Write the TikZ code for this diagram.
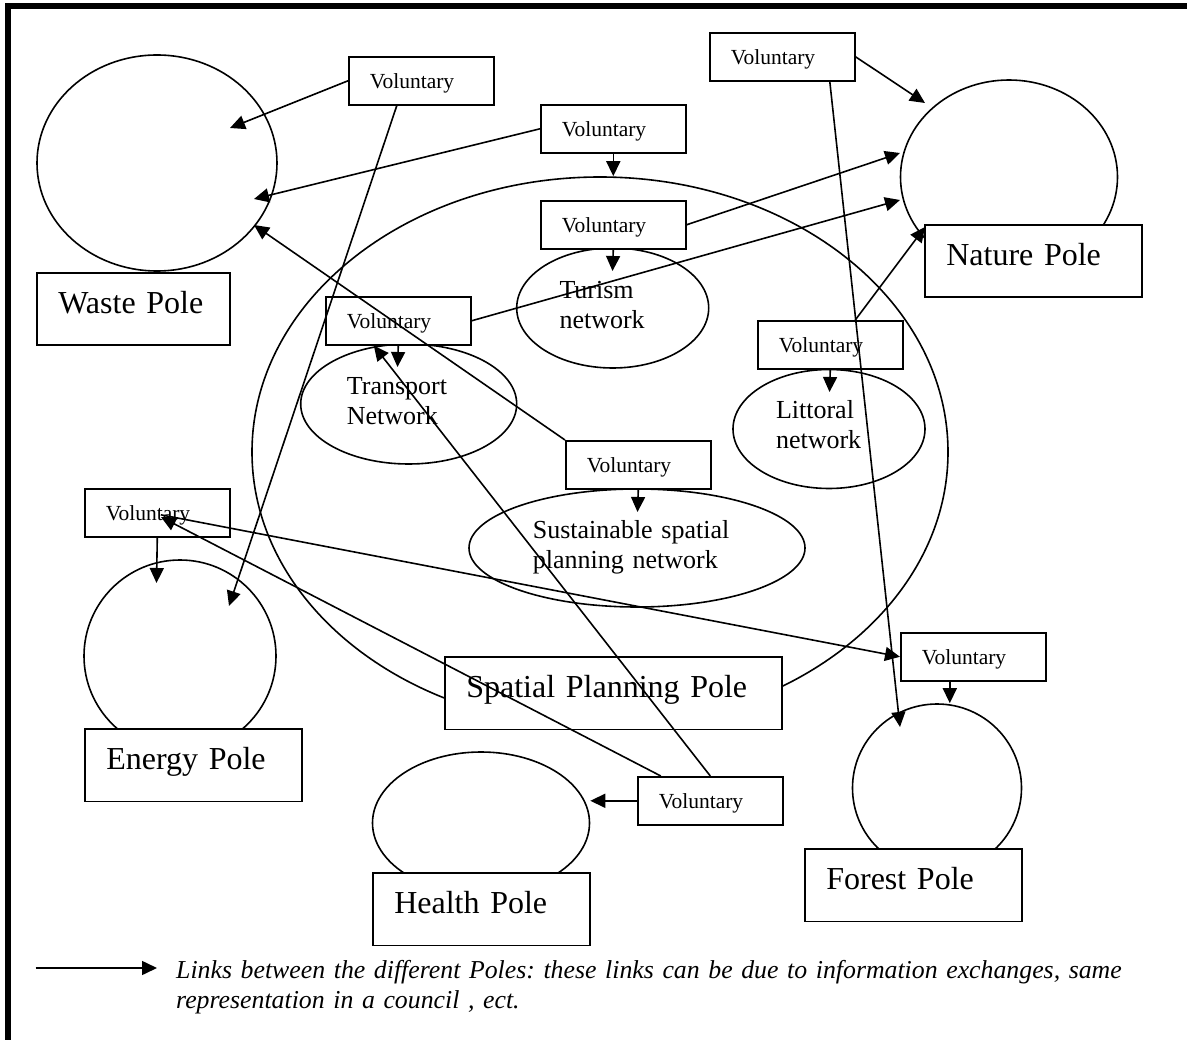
\documentclass[tikz,border=0pt]{standalone}
\usepackage{fontspec}
\setmainfont{Liberation Serif}
\usetikzlibrary{shapes.geometric,arrows.meta}
\frenchspacing

\tikzset{
  ln/.style={line width=1.6pt},
  link/.style={ln, -{Triangle[length=15pt,width=14pt]}},
  volbox/.style={draw, ln, fill=white, rectangle, anchor=north west,
    inner xsep=21pt, inner ysep=0pt, text width=103pt, align=left,
    minimum height=48pt, text height=15.8pt, text depth=1pt,
    font=\fontsize{21.5pt}{25pt}\selectfont},
  polebox/.style={draw, ln, fill=white, rectangle, anchor=north west,
    inner xsep=21.5pt, inner ysep=0pt, text width=#1, align=left,
    minimum height=72.5pt, text height=22pt, text depth=13.5pt,
    font=\fontsize{32pt}{38pt}\selectfont},
  oval/.style={draw, ln, ellipse, inner sep=0pt},
  nettext/.style={inner sep=0pt, anchor=base west, text width=240pt, align=left,
    font=\fontsize{26pt}{30pt}\selectfont},
}

\begin{document}
\begin{tikzpicture}[x=1pt,y=-1pt]
  \path[use as bounding box, fill=white] (0,0) rectangle (1187,1040);

  % frame (top and left rule)
  \draw[line width=5.5pt] (8,1045) -- (8,5.8) -- (1192,5.8);

  % pole circles and network ellipses
  \node[oval, minimum width=240pt, minimum height=216pt] (waste)   at (157,163) {};
  \node[oval, minimum width=217pt, minimum height=194pt] (nature)  at (1009,177) {};
  \node[oval, minimum width=192pt, minimum height=192pt] (energy)  at (180,656) {};
  \node[oval, minimum width=217pt, minimum height=142pt] (health)  at (481,823) {};
  \node[oval, minimum width=169pt, minimum height=168pt] (forest)  at (937,788) {};
  \node[oval, minimum width=696pt, minimum height=550pt] (spatial) at (600,452) {};
  \node[oval, minimum width=192pt, minimum height=120pt] (turism)    at (612.7,308) {};
  \node[oval, minimum width=216pt, minimum height=120pt] (transport) at (408.7,404) {};
  \node[oval, minimum width=192pt, minimum height=119pt] (littoral)  at (829,429) {};
  \node[oval, minimum width=336pt, minimum height=118pt] (sustain)   at (637,548) {};

  % network labels
  \node[nettext] (turismT)    at (559.3,298.3) {Turism\\network};
  \node[nettext] (transportT) at (346.7,395)   {Transport\\Network};
  \node[nettext] (littoralT)  at (775.8,418.3) {Littoral\\network};
  \node[nettext] (sustainT)   at (532.7,538.3) {Sustainable spatial\\planning network};

  % pole boxes
  \node[polebox=150pt] (wasteBox)   at (36,272)  {Waste Pole};
  \node[polebox=174pt] (natureBox)  at (924,224) {Nature Pole};
  \node[polebox=294pt] (spatialBox) at (444,656) {Spatial Planning Pole};
  \node[polebox=174pt] (energyBox)  at (84,728)  {Energy Pole};
  \node[polebox=174pt] (healthBox)  at (372,872) {Health Pole};
  \node[polebox=174pt] (forestBox)  at (804,848) {Forest Pole};

  % voluntary boxes
  \node[volbox] (vA) at (348,56)  {Voluntary};
  \node[volbox] (vB) at (540,104) {Voluntary};
  \node[volbox] (vC) at (540,200) {Voluntary};
  \node[volbox] (vD) at (709,32)  {Voluntary};
  \node[volbox] (vE) at (325,296) {Voluntary};
  \node[volbox] (vF) at (757,320) {Voluntary};
  \node[volbox] (vG) at (565,440) {Voluntary};
  \node[volbox] (vH) at (84,488)  {Voluntary};
  \node[volbox] (vI) at (637,776) {Voluntary};
  \node[volbox] (vJ) at (900,632) {Voluntary};

  % arrow ends inside the poles and networks
  \coordinate (tWasteA)   at (230,128);
  \coordinate (tWasteB)   at (254,199);
  \coordinate (tWasteC)   at (254,225);
  \coordinate (tEnergyA)  at (229,606);
  \coordinate (tEnergyB)  at (156.5,583);
  \coordinate (tNatureA)  at (925,103);
  \coordinate (tNatureB)  at (900,153);
  \coordinate (tNatureC)  at (900,200);
  \coordinate (tNatureD)  at (925,227);
  \coordinate (tForestA)  at (900,727);
  \coordinate (tTurism)   at (612.5,271);
  \coordinate (tTransport) at (397.5,367);
  \coordinate (tLittoral) at (829.5,392);
  \coordinate (tSustain)  at (637.5,512);
  \coordinate (tVolH)     at (161,517);

  % links
  \draw[link] (vA.west) -- (tWasteA);
  \draw[link] ([xshift=-24.5pt]vA.south) -- (tEnergyA);
  \draw[link] (vB.west) -- (tWasteB);
  \draw[link] (vB.south) -- (vB.south |- spatial.north);
  \draw[link] (vC.south) -- (tTurism);
  \draw[link] (vC.east) -- (tNatureB);
  \draw[link] (vD.east) -- (tNatureA);
  \draw[link] ([xshift=47.5pt]vD.south) -- (tForestA);
  \draw[link] (vE.east) -- (tNatureC);
  \draw[link] (vE.south) -- (tTransport);
  \draw[link] ([xshift=25pt]vF.north) -- (tNatureD);
  \draw[link] (vF.south) -- (tLittoral);
  \draw[link] (vG.south) -- (tSustain);
  \draw[link] (vG.north west) -- (tWasteC);
  \draw[link] (vH.south) -- (tEnergyB);
  \draw[link] ([xshift=3.5pt,yshift=-2pt]vH.center) -- (vJ.west);
  \draw[link] ([xshift=-49.5pt]vI.north) -- (tVolH);
  \draw[link] (vI.north) -- ([xshift=-24.5pt]vE.south);
  \draw[link] (vI.west) -- (vI.west -| health.east);
  \draw[link] ([xshift=-23.5pt]vJ.south) -- ([xshift=-23.5pt]vJ.south |- forest.north);

  % legend
  \coordinate (legStart) at (35.6,968);
  \coordinate (legEnd)   at (157,968);
  \draw[link] (legStart) -- (legEnd);
  \node[inner sep=0pt, anchor=base west, text width=1000pt, align=left,
        font=\fontsize{25.8pt}{30.5pt}\selectfont\itshape] (legend) at (176,978.3)
    {Links between the different Poles: these links can be due to information exchanges, same\\
     representation in a council , ect.};
\end{tikzpicture}
\end{document}
